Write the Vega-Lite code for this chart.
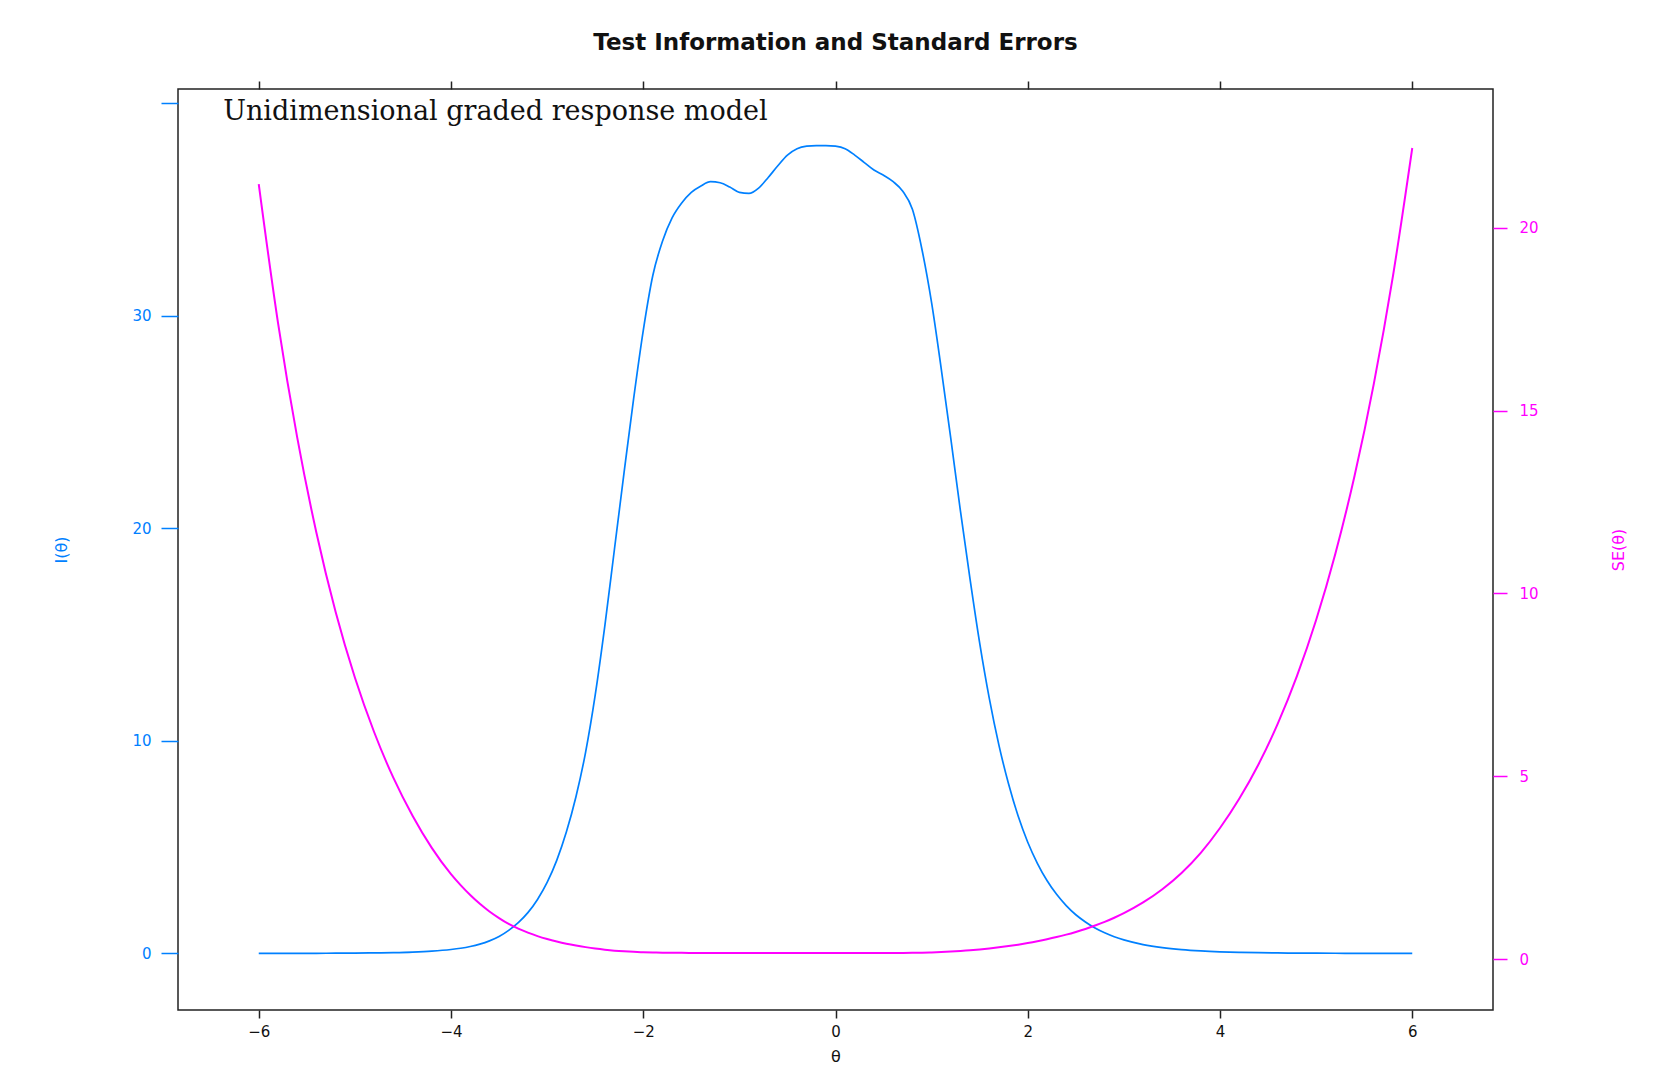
{
  "$schema": "https://vega.github.io/schema/vega-lite/v6.json",
  "autosize": {"type": "none"},
  "width": 1315,
  "height": 921,
  "padding": {"left": 178, "top": 89, "right": 170, "bottom": 55},
  "background": "white",
  "config": {
    "font": "DejaVu Sans",
    "view": {"stroke": "#222222", "strokeWidth": 1.5},
    "axis": {"grid": false, "domain": false, "labelFont": "DejaVu Sans", "titleFont": "DejaVu Sans", "labelFontSize": 15, "titleFontSize": 16, "titleFontWeight": "normal"}
  },
  "title": {
    "text": "Test Information and Standard Errors",
    "font": "DejaVu Sans",
    "fontSize": 23,
    "fontWeight": "bold",
    "color": "#111111",
    "anchor": "middle",
    "offset": 25
  },
  "data": {
    "values": [
      {"theta": -6.0, "info": 0.00222, "se": 21.2},
      {"theta": -5.8, "info": 0.0033, "se": 17.41},
      {"theta": -5.6, "info": 0.00491, "se": 14.27},
      {"theta": -5.4, "info": 0.00736, "se": 11.66},
      {"theta": -5.2, "info": 0.0111, "se": 9.49},
      {"theta": -5.0, "info": 0.01687, "se": 7.7},
      {"theta": -4.8, "info": 0.0259, "se": 6.21},
      {"theta": -4.6, "info": 0.0406, "se": 4.96},
      {"theta": -4.4, "info": 0.0651, "se": 3.92},
      {"theta": -4.2, "info": 0.1082, "se": 3.04},
      {"theta": -4.0, "info": 0.186, "se": 2.32},
      {"theta": -3.9, "info": 0.245, "se": 2.02},
      {"theta": -3.8, "info": 0.327, "se": 1.75},
      {"theta": -3.7, "info": 0.439, "se": 1.51},
      {"theta": -3.6, "info": 0.592, "se": 1.3},
      {"theta": -3.5, "info": 0.797, "se": 1.12},
      {"theta": -3.4, "info": 1.087, "se": 0.959},
      {"theta": -3.3, "info": 1.45, "se": 0.83},
      {"theta": -3.2, "info": 1.92, "se": 0.722},
      {"theta": -3.1, "info": 2.54, "se": 0.627},
      {"theta": -3.0, "info": 3.34, "se": 0.547},
      {"theta": -2.9, "info": 4.38, "se": 0.478},
      {"theta": -2.8, "info": 5.71, "se": 0.418},
      {"theta": -2.7, "info": 7.37, "se": 0.368},
      {"theta": -2.6, "info": 9.46, "se": 0.325},
      {"theta": -2.5, "info": 12.15, "se": 0.287},
      {"theta": -2.4, "info": 15.4, "se": 0.255},
      {"theta": -2.3, "info": 19.0, "se": 0.229},
      {"theta": -2.2, "info": 22.6, "se": 0.21},
      {"theta": -2.1, "info": 26.1, "se": 0.196},
      {"theta": -2.0, "info": 29.3, "se": 0.185},
      {"theta": -1.9, "info": 31.9, "se": 0.177},
      {"theta": -1.8, "info": 33.5, "se": 0.173},
      {"theta": -1.7, "info": 34.6, "se": 0.17},
      {"theta": -1.6, "info": 35.3, "se": 0.168},
      {"theta": -1.5, "info": 35.8, "se": 0.167},
      {"theta": -1.4, "info": 36.1, "se": 0.166},
      {"theta": -1.3, "info": 36.3, "se": 0.166},
      {"theta": -1.2, "info": 36.25, "se": 0.166},
      {"theta": -1.1, "info": 36.05, "se": 0.167},
      {"theta": -1.0, "info": 35.8, "se": 0.167},
      {"theta": -0.9, "info": 35.75, "se": 0.167},
      {"theta": -0.8, "info": 36.0, "se": 0.167},
      {"theta": -0.7, "info": 36.5, "se": 0.166},
      {"theta": -0.6, "info": 37.05, "se": 0.164},
      {"theta": -0.5, "info": 37.55, "se": 0.163},
      {"theta": -0.4, "info": 37.85, "se": 0.163},
      {"theta": -0.3, "info": 37.97, "se": 0.162},
      {"theta": -0.2, "info": 38.0, "se": 0.162},
      {"theta": -0.1, "info": 38.0, "se": 0.162},
      {"theta": 0.0, "info": 37.97, "se": 0.162},
      {"theta": 0.1, "info": 37.85, "se": 0.163},
      {"theta": 0.2, "info": 37.55, "se": 0.163},
      {"theta": 0.3, "info": 37.2, "se": 0.164},
      {"theta": 0.4, "info": 36.85, "se": 0.165},
      {"theta": 0.5, "info": 36.6, "se": 0.165},
      {"theta": 0.6, "info": 36.3, "se": 0.166},
      {"theta": 0.7, "info": 35.85, "se": 0.167},
      {"theta": 0.8, "info": 35.0, "se": 0.169},
      {"theta": 0.9, "info": 33.1, "se": 0.174},
      {"theta": 1.0, "info": 30.6, "se": 0.181},
      {"theta": 1.1, "info": 27.5, "se": 0.191},
      {"theta": 1.2, "info": 24.2, "se": 0.203},
      {"theta": 1.3, "info": 20.8, "se": 0.219},
      {"theta": 1.4, "info": 17.6, "se": 0.238},
      {"theta": 1.5, "info": 14.6, "se": 0.262},
      {"theta": 1.6, "info": 12.0, "se": 0.289},
      {"theta": 1.7, "info": 9.8, "se": 0.319},
      {"theta": 1.8, "info": 7.98, "se": 0.354},
      {"theta": 1.9, "info": 6.46, "se": 0.393},
      {"theta": 2.0, "info": 5.23, "se": 0.437},
      {"theta": 2.1, "info": 4.24, "se": 0.486},
      {"theta": 2.2, "info": 3.43, "se": 0.54},
      {"theta": 2.3, "info": 2.78, "se": 0.6},
      {"theta": 2.4, "info": 2.25, "se": 0.667},
      {"theta": 2.5, "info": 1.82, "se": 0.741},
      {"theta": 2.6, "info": 1.48, "se": 0.822},
      {"theta": 2.7, "info": 1.195, "se": 0.915},
      {"theta": 2.8, "info": 0.97, "se": 1.015},
      {"theta": 2.9, "info": 0.785, "se": 1.129},
      {"theta": 3.0, "info": 0.636, "se": 1.254},
      {"theta": 3.2, "info": 0.418, "se": 1.547},
      {"theta": 3.4, "info": 0.2745, "se": 1.909},
      {"theta": 3.6, "info": 0.1804, "se": 2.354},
      {"theta": 3.8, "info": 0.1185, "se": 2.905},
      {"theta": 4.0, "info": 0.0779, "se": 3.583},
      {"theta": 4.2, "info": 0.0521, "se": 4.382},
      {"theta": 4.4, "info": 0.0353, "se": 5.323},
      {"theta": 4.6, "info": 0.02418, "se": 6.431},
      {"theta": 4.8, "info": 0.0167, "se": 7.737},
      {"theta": 5.0, "info": 0.01162, "se": 9.275},
      {"theta": 5.2, "info": 0.00814, "se": 11.087},
      {"theta": 5.4, "info": 0.00572, "se": 13.221},
      {"theta": 5.6, "info": 0.00404, "se": 15.735},
      {"theta": 5.8, "info": 0.00286, "se": 18.697},
      {"theta": 6.0, "info": 0.00203, "se": 22.186}
    ]
  },
  "layer": [
    {
      "layer": [
        {
          "mark": {"type": "line", "color": "#0080ff", "strokeWidth": 1.7, "interpolate": "monotone"},
          "encoding": {
            "x": {
              "field": "theta", "type": "quantitative",
              "scale": {"domain": [-6.84, 6.84], "nice": false, "zero": false},
              "axis": {"orient": "bottom", "values": [-6, -4, -2, 0, 2, 4, 6], "format": "d", "title": "θ", "tickColor": "#222222", "tickSize": 8, "tickWidth": 1.5, "labelColor": "#111111", "labelPadding": 6, "titleColor": "#111111", "titlePadding": 9}
            },
            "y": {
              "field": "info", "type": "quantitative",
              "scale": {"domain": [-2.66, 40.66], "nice": false, "zero": false},
              "axis": {"orient": "left", "values": [0, 10, 20, 30, 40], "labelExpr": "datum.value == 40 ? '' : datum.label", "title": "I(θ)", "tickColor": "#0080ff", "tickSize": 17, "tickWidth": 1.5, "labelColor": "#0080ff", "labelPadding": 10, "titleColor": "#0080ff", "titlePadding": 62}
            }
          }
        },
        {
          "data": {"values": [{"label": "Unidimensional graded response model"}]},
          "mark": {"type": "text", "font": "DejaVu Serif", "fontSize": 27, "align": "left", "baseline": "alphabetic", "color": "#111111"},
          "encoding": {
            "text": {"field": "label", "type": "nominal"},
            "x": {"datum": -6.37, "type": "quantitative"},
            "y": {"datum": 39.2, "type": "quantitative"}
          }
        }
      ]
    },
    {
      "mark": {"type": "line", "color": "#ff00ff", "strokeWidth": 2, "interpolate": "monotone"},
      "encoding": {
        "x": {
          "field": "theta", "type": "quantitative",
          "axis": {"orient": "top", "values": [-6, -4, -2, 0, 2, 4, 6], "labels": false, "title": null, "tickColor": "#222222", "tickSize": 8, "tickWidth": 1.5}
        },
        "y": {
          "field": "se", "type": "quantitative",
          "scale": {"domain": [-1.395, 23.8], "nice": false, "zero": false},
          "axis": {"orient": "right", "values": [0, 5, 10, 15, 20], "title": "SE(θ)", "titleAngle": 270, "tickColor": "#ff00ff", "tickSize": 14, "tickWidth": 1.5, "labelColor": "#ff00ff", "labelPadding": 12, "titleColor": "#ff00ff", "titlePadding": 88}
        }
      }
    }
  ],
  "resolve": {"scale": {"y": "independent"}, "axis": {"x": "independent"}}
}
